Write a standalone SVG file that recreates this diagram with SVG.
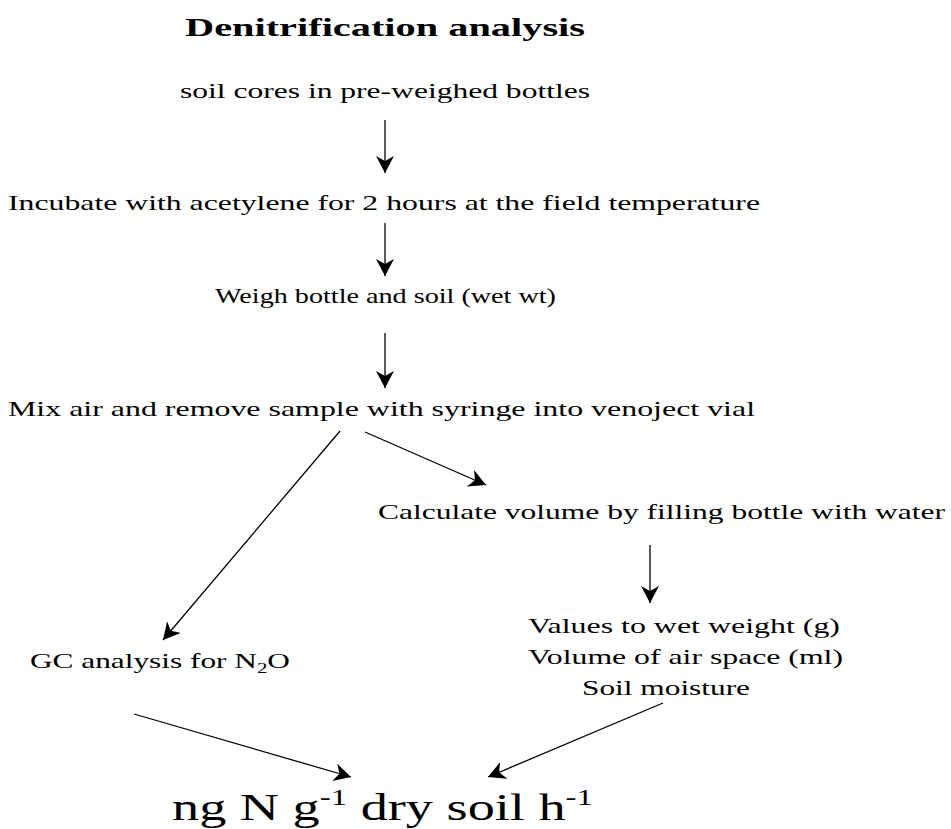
<svg xmlns="http://www.w3.org/2000/svg" width="951" height="829" viewBox="0 0 951 829">
<style>
  text { font-family: "Liberation Serif", "Times New Roman", serif; fill: #000; }
  .t { font-size: 21px; }
  .b { font-size: 25px; font-weight: bold; }
  .big { font-size: 38px; }
  .c line { stroke: #000; stroke-width: 1.3; fill: none; }
</style>
<defs>
  <marker id="ah" markerUnits="userSpaceOnUse" markerWidth="20" markerHeight="20" refX="17" refY="9" orient="auto">
    <path d="M0,0 L17,9 L0,18 L5,9 z" fill="#000"/>
  </marker>
</defs>
<rect width="951" height="829" fill="#fff"/>
<g id="title"><text class="b" x="185" y="36" textLength="400" lengthAdjust="spacingAndGlyphs">Denitrification analysis</text></g>
<g id="n1"><text class="t" x="180" y="98" textLength="410" lengthAdjust="spacingAndGlyphs">soil cores in pre-weighed bottles</text></g>
<g id="n2"><text class="t" x="8" y="210" textLength="752" lengthAdjust="spacingAndGlyphs">Incubate with acetylene for 2 hours at the field temperature</text></g>
<g id="n3"><text class="t" x="215" y="303" textLength="341" lengthAdjust="spacingAndGlyphs">Weigh bottle and soil (wet wt)</text></g>
<g id="n4"><text class="t" x="8" y="416" textLength="747" lengthAdjust="spacingAndGlyphs">Mix air and remove sample with syringe into venoject vial</text></g>
<g id="n5"><text class="t" x="378" y="519" textLength="567" lengthAdjust="spacingAndGlyphs">Calculate volume by filling bottle with water</text></g>
<g id="n6"><text class="t" x="30" y="668" textLength="260" lengthAdjust="spacingAndGlyphs">GC analysis for N<tspan font-size="14" dy="5">2</tspan><tspan dy="-5">O</tspan></text></g>
<g id="n7">
  <text class="t" x="528" y="633" textLength="312" lengthAdjust="spacingAndGlyphs">Values to wet weight (g)</text>
  <text class="t" x="528" y="664" textLength="315" lengthAdjust="spacingAndGlyphs">Volume of air space (ml)</text>
  <text class="t" x="582" y="695" textLength="168" lengthAdjust="spacingAndGlyphs">Soil moisture</text>
</g>
<g id="n8"><text class="big" x="172" y="820" textLength="421" lengthAdjust="spacingAndGlyphs">ng N g<tspan font-size="23" dy="-15">-1</tspan><tspan dy="15"> dry soil h</tspan><tspan font-size="23" dy="-15">-1</tspan></text></g>
<g id="connectors" class="c">
  <line x1="385" y1="120" x2="385" y2="173" marker-end="url(#ah)"/>
  <line x1="385" y1="223" x2="385" y2="276" marker-end="url(#ah)"/>
  <line x1="385" y1="333" x2="385" y2="388" marker-end="url(#ah)"/>
  <line x1="340" y1="431" x2="163" y2="640" marker-end="url(#ah)"/>
  <line x1="365" y1="432" x2="486" y2="485" marker-end="url(#ah)"/>
  <line x1="650" y1="545" x2="650" y2="603" marker-end="url(#ah)"/>
  <line x1="134" y1="714" x2="351" y2="777" marker-end="url(#ah)"/>
  <line x1="663" y1="703" x2="488" y2="777" marker-end="url(#ah)"/>
</g>
</svg>
